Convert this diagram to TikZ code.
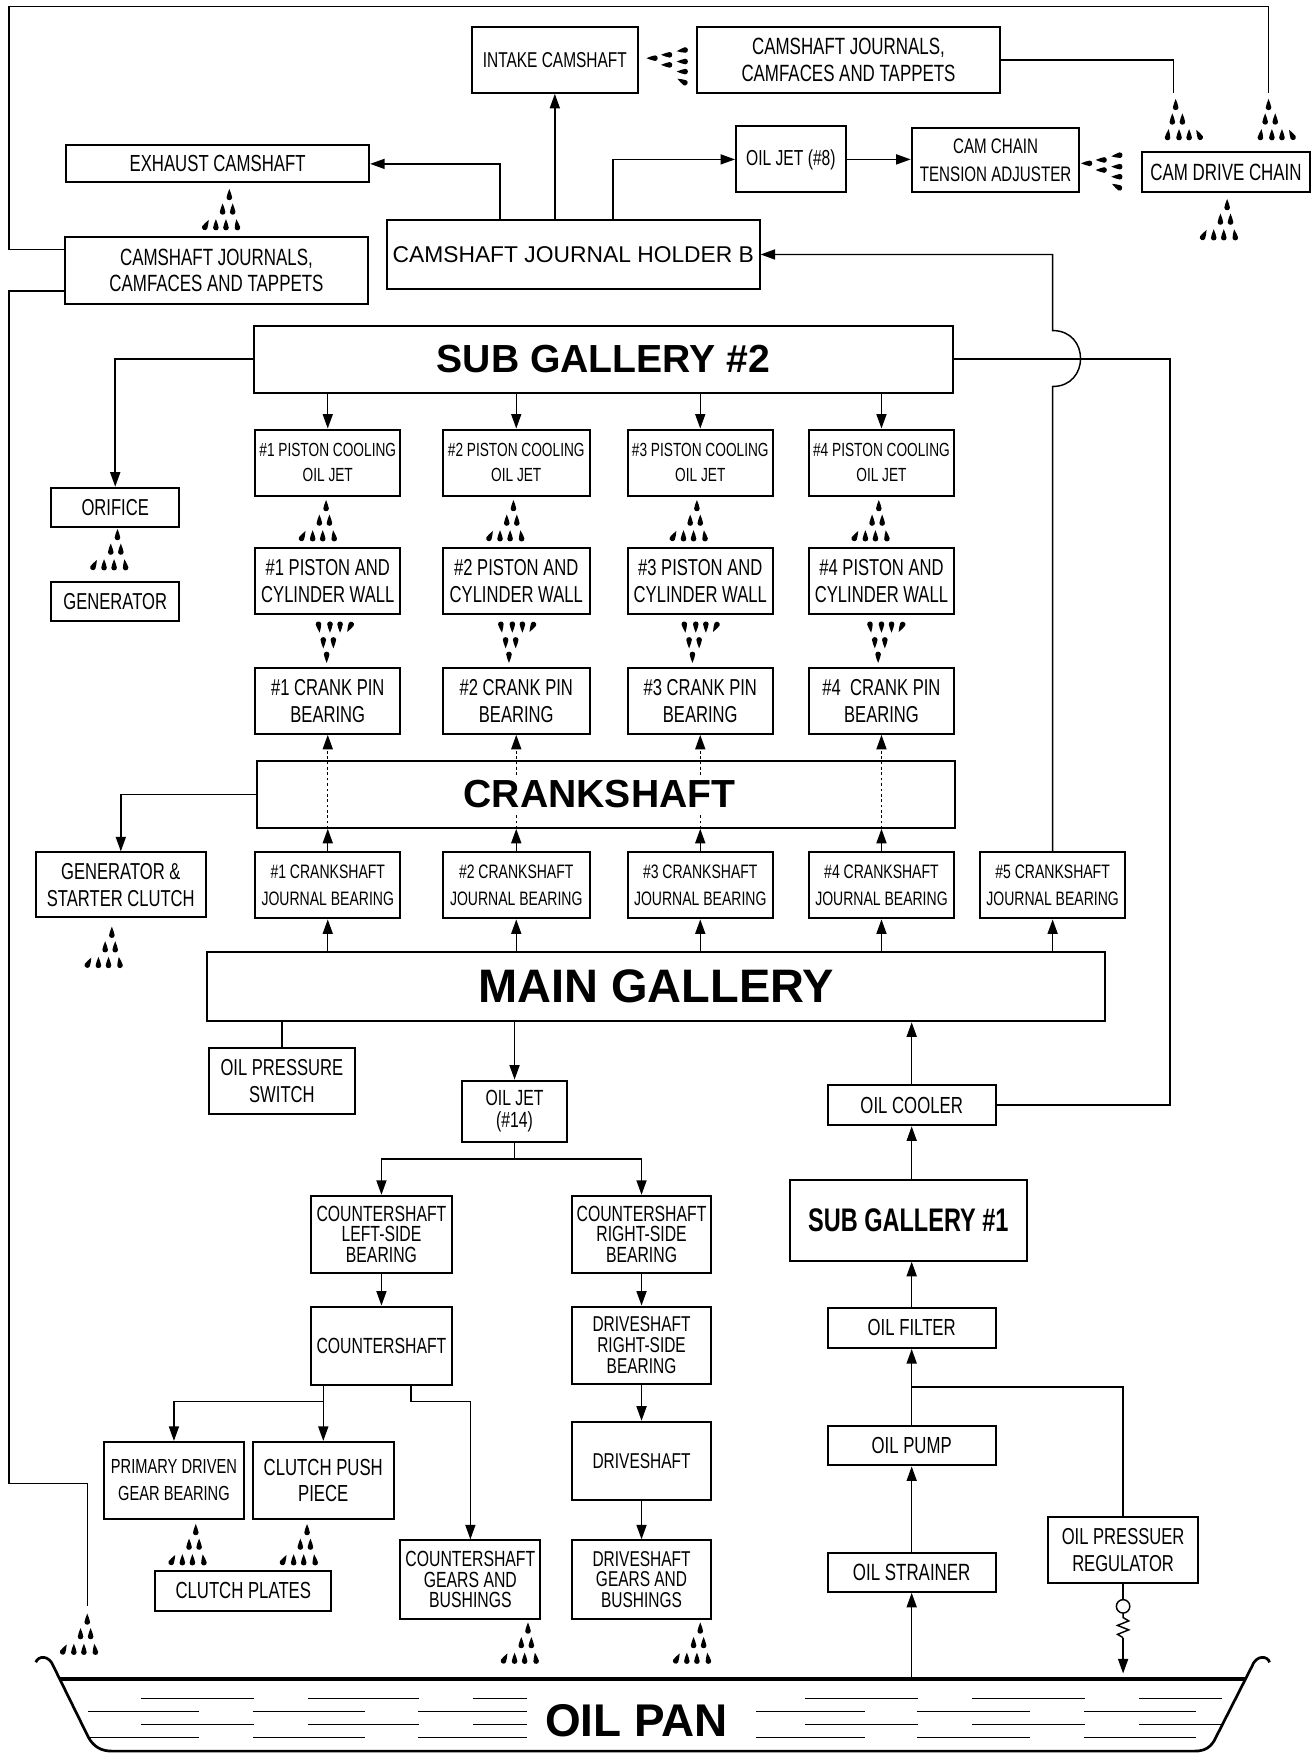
\documentclass[tikz,border=0pt]{standalone}
\usepackage{fontspec}
\setmainfont{Liberation Sans}
\newfontfamily\cnd{Liberation Sans}[FakeStretch=0.72]
\usetikzlibrary{arrows.meta}
\newcommand\drop[3]{\fill[shift={(#1,#2)},rotate=#3] (0,-5.6) .. controls (0.8,-2.6) and (2.5,-0.3) .. (2.5,2.1) .. controls (2.5,5.2) and (-2.5,5.2) .. (-2.5,2.1) .. controls (-2.5,-0.3) and (-0.8,-2.6) .. (0,-5.6) -- cycle;}
\newcommand\bx[7][]{\node[box,#1,minimum width={(#5-#3)*0.5pt},minimum height={(#6-#4)*0.5pt}] (#2) at ({(#3+#5)/2},{(#4+#6)/2}) {#7};}
\tikzset{
  box/.style={draw, line width=0.9pt, inner sep=0pt, align=center, font=\cnd\fontsize{10.3}{12}\selectfont},
  fs/.style 2 args={font=\cnd\fontsize{#1}{#2}\selectfont},
  arr/.style={line width=0.65pt, -{Triangle[length=6.5pt,width=4.5pt]}},
  ln/.style={line width=0.65pt},
  dots/.style={dash pattern=on 1.2pt off 1.2pt},
  fount/.pic={\drop{0}{0}{0}\drop{-6}{13}{0}\drop{3}{13}{0}\drop{-21}{27}{-28}\drop{-12}{27}{0}\drop{-3}{27}{0}\drop{7}{27}{8}}
}
\begin{document}
\begin{tikzpicture}[x=0.5pt,y=-0.5pt]
\useasboundingbox (0,0) rectangle (1176,1568);

% ---------- boxes ----------
\bx[fs={9.6}{12}]{ic}{422}{24}{570}{83}{INTAKE CAMSHAFT}
\bx[fs={10.5}{11.7}]{cjt}{623}{24}{894}{83}{CAMSHAFT JOURNALS,\\CAMFACES AND TAPPETS}
\bx[fs={10.4}{12}]{exh}{59}{130}{330}{163}{EXHAUST CAMSHAFT}
\bx[fs={10.5}{11.7}]{cjl}{58}{212}{329}{272}{CAMSHAFT JOURNALS,\\CAMFACES AND TAPPETS}
\bx[font=\fontsize{10.2}{12}\selectfont]{hb}{346}{197}{679}{258}{CAMSHAFT JOURNAL HOLDER B}
\bx[fs={9.7}{12}]{oj8}{658}{113}{756}{172}{OIL JET (\#8)}
\bx[fs={9.4}{12.5}]{cta}{815}{114}{965}{172}{CAM CHAIN\\TENSION ADJUSTER}
\bx[fs={10.5}{12}]{cdc}{1021}{136}{1171}{172}{CAM DRIVE CHAIN}

\bx[font=\bfseries\fontsize{17.5}{20}\selectfont]{sg2}{227}{291}{852}{351}{SUB GALLERY \#2}
\bx{ori}{46}{436}{160}{471}{ORIFICE}
\bx{gen}{46}{520}{160}{555}{GENERATOR}

\bx[fs={8.5}{11.2}]{pj1}{228}{384}{358}{443}{\#1 PISTON COOLING\\OIL JET}
\bx[fs={8.5}{11.2}]{pj2}{396}{384}{527}{443}{\#2 PISTON COOLING\\OIL JET}
\bx[fs={8.5}{11.2}]{pj3}{561}{384}{691}{443}{\#3 PISTON COOLING\\OIL JET}
\bx[fs={8.5}{11.2}]{pj4}{723}{384}{853}{443}{\#4 PISTON COOLING\\OIL JET}

\bx{pw1}{228}{490}{358}{549}{\#1 PISTON AND\\CYLINDER WALL}
\bx{pw2}{396}{490}{527}{549}{\#2 PISTON AND\\CYLINDER WALL}
\bx{pw3}{561}{490}{691}{549}{\#3 PISTON AND\\CYLINDER WALL}
\bx{pw4}{723}{490}{853}{549}{\#4 PISTON AND\\CYLINDER WALL}

\bx{cp1}{228}{597}{358}{656}{\#1 CRANK PIN\\BEARING}
\bx{cp2}{396}{597}{527}{656}{\#2 CRANK PIN\\BEARING}
\bx{cp3}{561}{597}{691}{656}{\#3 CRANK PIN\\BEARING}
\bx{cp4}{723}{597}{853}{656}{\#4\ \ CRANK PIN\\BEARING}

\bx{cs}{230}{680}{854}{740}{}
\bx{gsc}{32}{762}{184}{820}{GENERATOR \&\\STARTER CLUTCH}

\bx[fs={8.7}{12}]{jb1}{228}{762}{358}{821}{\#1 CRANKSHAFT\\JOURNAL BEARING}
\bx[fs={8.7}{12}]{jb2}{396}{762}{527}{821}{\#2 CRANKSHAFT\\JOURNAL BEARING}
\bx[fs={8.7}{12}]{jb3}{561}{762}{691}{821}{\#3 CRANKSHAFT\\JOURNAL BEARING}
\bx[fs={8.7}{12}]{jb4}{723}{762}{853}{821}{\#4 CRANKSHAFT\\JOURNAL BEARING}
\bx[fs={8.7}{12}]{jb5}{876}{762}{1006}{821}{\#5 CRANKSHAFT\\JOURNAL BEARING}

\bx[font=\bfseries\fontsize{21}{24}\selectfont]{mg}{185}{851}{988}{913}{MAIN GALLERY}
\bx{sw}{187}{937}{317}{996}{OIL PRESSURE\\SWITCH}
\bx[fs={9.8}{10}]{oj14}{413}{966}{507}{1021}{OIL JET\\(\#14)}

\bx[fs={9.8}{9.3}]{csl}{278}{1069}{404}{1138}{COUNTERSHAFT\\LEFT-SIDE\\BEARING}
\bx[fs={9.8}{9.3}]{csr}{511}{1069}{636}{1138}{COUNTERSHAFT\\RIGHT-SIDE\\BEARING}
\bx[fs={9.8}{12}]{csh}{278}{1168}{404}{1238}{COUNTERSHAFT}
\bx[fs={9.6}{9.3}]{dsr}{511}{1168}{636}{1237}{DRIVESHAFT\\RIGHT-SIDE\\BEARING}
\bx[fs={9.6}{12}]{ds}{511}{1271}{636}{1341}{DRIVESHAFT}
\bx[fs={9.6}{9.3}]{dsg}{511}{1377}{636}{1447}{DRIVESHAFT\\GEARS AND\\BUSHINGS}
\bx[fs={9.1}{12}]{pdg}{93}{1289}{218}{1358}{PRIMARY DRIVEN\\GEAR BEARING}
\bx[fs={10.4}{12}]{cpp}{226}{1289}{352}{1358}{CLUTCH PUSH\\PIECE}
\bx[fs={10.4}{12}]{cpl}{139}{1404}{296}{1440}{CLUTCH PLATES}
\bx[fs={9.8}{9.3}]{csg}{358}{1377}{483}{1447}{COUNTERSHAFT\\GEARS AND\\BUSHINGS}

\bx[fs={10.4}{12}]{oc}{740}{970}{890}{1006}{OIL COOLER}
\bx[font=\cnd\bfseries\fontsize{14.6}{17}\selectfont]{sg1}{706}{1055}{918}{1127}{SUB GALLERY \#1}
\bx[fs={10.4}{12}]{of}{740}{1169}{890}{1205}{OIL FILTER}
\bx[fs={10.4}{12}]{op}{740}{1275}{890}{1310}{OIL PUMP}
\bx[fs={10.5}{12}]{os}{740}{1388}{890}{1423}{OIL STRAINER}
\bx{reg}{937}{1356}{1071}{1415}{OIL PRESSUER\\REGULATOR}

% ---------- connectors, top ----------
\draw[ln] (cjl.west |- 0,223) -| (8,6) -| (1134,83);
\draw[ln] (cjl.west |- 0,260) -| (8,1326) -| (78,1436);
\draw[ln] (cjt.east) -| (1049,83);
\draw[arr] (hb.north -| 447,0) |- (exh.east);
\draw[arr] (hb.north -| ic.south) -- (ic.south);
\draw[arr] (hb.north -| 548,0) |- (oj8.west);
\draw[arr] (oj8.east) -- (oj8.east -| cta.west);
\draw[arr] (jb5.north) -- (941,345.5) .. controls (974.3,345.5) and (974.3,295.5) .. (941,295.5) |- (hb.east);
\draw[ln] (sg2.east) -| (1046,988) -- (oc.east);

% ---------- sub gallery 2 ----------
\draw[arr] (sg2.west) -| (ori.north);
\foreach \i in {1,2,3,4}{
  \draw[arr] (sg2.south -| pj\i.north) -- (pj\i.north);
  \draw[arr] (jb\i.north) -- (jb\i.north |- cs.south);
  \draw[arr,dots] (jb\i.north |- cs.south) -- (cp\i.south);
}
\node[fill=white, inner xsep=1pt, inner ysep=2pt, font=\bfseries\fontsize{17.5}{20}\selectfont] (cst) at ([xshift=-3pt]cs.center) {CRANKSHAFT};
\draw[arr] (cs.west) -| (gsc.north);
\foreach \i in {1,2,3,4,5}{
  \draw[arr] (mg.north -| jb\i.south) -- (jb\i.south);
}

% ---------- below main gallery ----------
\draw[ln] (mg.south -| sw.north) -- (sw.north);
\draw[arr] (mg.south -| oj14.north) -- (oj14.north);
\draw[ln] (oj14.south) -- (oj14.south |- 0,1036);
\draw[arr] (oj14.south |- 0,1036) -| (csl.north);
\draw[arr] (oj14.south |- 0,1036) -| (csr.north);
\draw[arr] (csl.south) -- (csh.north);
\draw[arr] (csh.south -| cpp.north) -- (cpp.north);
\draw[arr] (csh.south -| cpp.north) ++(0,14) -| (pdg.north);
\draw[arr] (csh.south -| 367.5,0) -- ++(0,14) -| (csg.north);
\draw[arr] (csr.south) -- (dsr.north);
\draw[arr] (dsr.south) -- (ds.north);
\draw[arr] (ds.south) -- (dsg.north);

% ---------- right column ----------
\draw[arr] (oc.north) -- (oc.north |- mg.south);
\draw[arr] (sg1.north -| oc.south) -- (oc.south);
\draw[arr] (of.north) -- (of.north |- sg1.south);
\draw[arr] (op.north) -- (of.south);
\draw[arr] (os.north) -- (op.south);
\draw[ln] (op.north |- 0,1240) -| (reg.north);
\draw[arr] (os.south |- 0,1500) -- (os.south);
\draw[ln] (reg.south) -- (1004,1430);
\draw[ln] (1004,1436) circle[radius=3pt];
\draw[ln] (1004,1442) -- (1004,1446) -- (1009,1449) -- (999,1453) -- (1009,1457) -- (999,1461) -- (1004,1464);
\draw[arr] (1004,1464) -- (1004,1496);

% ---------- oil pan ----------
\draw[line width=1.2pt] (32,1486) .. controls (34,1480) and (44,1479) .. (48,1490) -- (79,1553) .. controls (84,1562) and (91,1565.4) .. (100,1565.4) -- (1068,1565.4) .. controls (1077,1565.4) and (1083,1562) .. (1087,1553) -- (1119,1490) .. controls (1123,1479) and (1133,1480) .. (1135,1486);
\draw[line width=1.8pt] (53,1501) -- (1113,1501);
\foreach \y in {1518.5,1541.5}{
  \foreach \a/\b in {126/227,275/375,423/471,720/821,869/970,1018/1092}{
    \draw[line width=0.6pt] (\a,\y) -- (\b,\y);
  }
}
\foreach \y in {1530,1553}{
  \foreach \a/\b in {79/178,226/326,374/471,676/773,820/921,969/1069}{
    \draw[line width=0.6pt] (\a,\y) -- (\b,\y);
  }
}
\node[font=\bfseries\fontsize{20.5}{24}\selectfont] (pan) at (569,1538) {OIL PAN};

% ---------- oil drops ----------
\pic at (205,174.5) {fount};
\pic[rotate=90] at (583.5,52) {fount};
\pic[xscale=-1] at (1051,94) {fount};
\pic[xscale=-1] at (1134,94) {fount};
\pic[rotate=90] at (972,146) {fount};
\pic at (1097,183.5) {fount};
\pic at (105,478.5) {fount};
\pic at (291.5,452.6) {fount};
\pic at (459,452.6) {fount};
\pic at (623,452.6) {fount};
\pic at (785.6,452.6) {fount};
\pic[rotate=180] at (292,587) {fount};
\pic[rotate=180] at (455,587) {fount};
\pic[rotate=180] at (619,587) {fount};
\pic[rotate=180] at (785,587) {fount};
\pic at (100,834) {fount};
\pic at (175,1368) {fount};
\pic at (274.5,1368) {fount};
\pic at (78,1448) {fount};
\pic at (472,1456) {fount};
\pic at (626,1456) {fount};
\end{tikzpicture}
\end{document}
